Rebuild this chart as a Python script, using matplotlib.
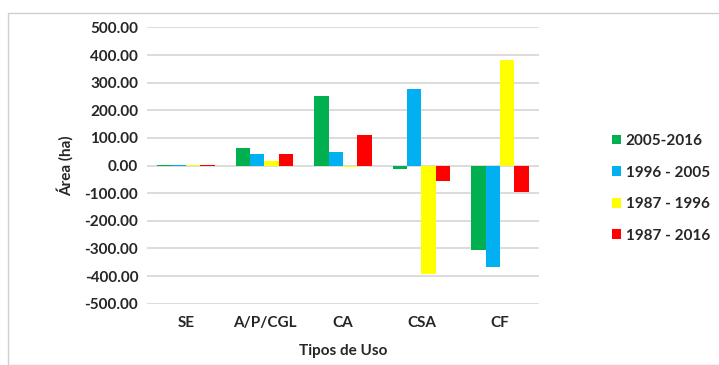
import matplotlib
matplotlib.use("Agg")
import matplotlib.pyplot as plt
import numpy as np
from matplotlib.patches import Rectangle

categories = ["SE", "A/P/CGL", "CA", "CSA", "CF"]
series_names = ["2005-2016", "1996 - 2005", "1987 - 1996", "1987 - 2016"]
s_2005_2016 = [1.5, 62.7, 252.0, -12.0, -305.0]
s_1996_2005 = [1.5, 41.0, 48.0, 277.0, -367.0]
s_1987_1996 = [2.5, 18.0, -5.0, -394.0, 381.0]
s_1987_2016 = [2.0, 41.0, 112.0, -55.0, -97.0]
colors = ["#00b050", "#00b0f0", "#ffff00", "#ff0000"]
yticks = [500, 400, 300, 200, 100, 0, -100, -200, -300, -400, -500]

plt.rcParams['font.family'] = ['Lato', 'DejaVu Sans']
FS = 11
TC = '#262626'

fig = plt.figure(figsize=(7.19, 3.65), dpi=100)
ax = fig.add_axes([0.204, 0.168, 0.546, 0.757])

data = [s_2005_2016, s_1996_2005, s_1987_1996, s_1987_2016]
x = np.arange(len(categories))
group_w = 0.73
bw = group_w / 4
for i, (vals, c, name) in enumerate(zip(data, colors, series_names)):
    ax.bar(x - group_w / 2 + bw * (i + 0.5), vals, width=bw, color=c, label=name, zorder=3)

ax.set_xlim(-0.5, len(categories) - 0.5)
ax.set_ylim(-500, 500)
ax.set_yticks(yticks)
ax.set_yticklabels([f"{v:.2f}" for v in yticks], fontsize=FS, fontweight='bold', color=TC)
ax.set_xticks(x)
ax.set_xticklabels(categories, fontsize=FS, fontweight='bold', color=TC)
ax.tick_params(axis='both', length=0)
ax.tick_params(axis='x', pad=9)
ax.tick_params(axis='y', pad=6)
ax.grid(axis='y', color='#d9d9d9', linewidth=1.3, zorder=0)
for s in ax.spines.values():
    s.set_visible(False)
ax.set_ylabel("Área (ha)", fontsize=FS, fontweight='bold', color=TC, labelpad=8)
ax.set_xlabel("Tipos de Uso", fontsize=FS, fontweight='bold', color=TC, labelpad=10)

leg = fig.legend(loc='center left', bbox_to_anchor=(0.832, 0.484), frameon=False,
                 handlelength=0.6, handleheight=0.6, handletextpad=0.3,
                 labelspacing=1.15, prop={'weight': 'bold', 'size': FS})
for t in leg.get_texts():
    t.set_color(TC)

fig.patches.append(Rectangle((8 / 719, 0), 1.2, 1 - 13 / 365, transform=fig.transFigure,
                             fill=False, edgecolor='#d0d0d0', linewidth=1.0))

fig.savefig("out.png", dpi=100)
